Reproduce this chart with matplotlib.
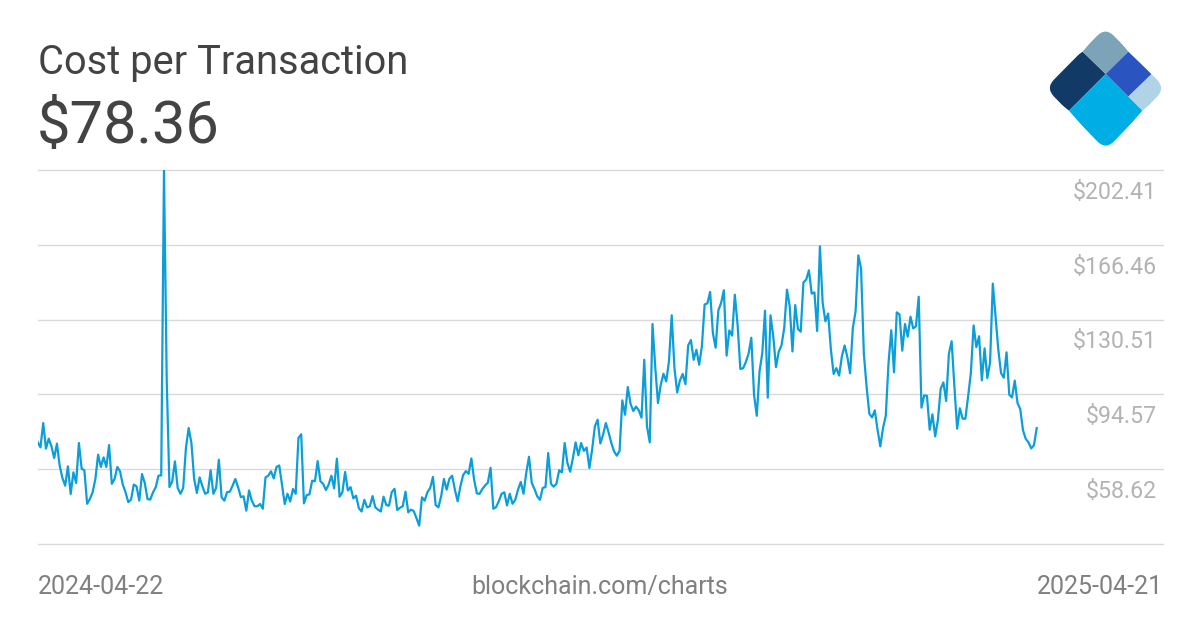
"""Cost per Transaction chart, blockchain.com share image style."""
import numpy as np
import matplotlib
matplotlib.use("Agg")
import matplotlib.pyplot as plt
from matplotlib.patches import PathPatch, Polygon
from matplotlib.path import Path

plt.rcParams["font.family"] = ["Roboto", "DejaVu Sans"]

# Daily values, 2024-04-22 to 2025-04-21
cost_jan = [71.7, 69.1, 80.8, 68.5, 73.3, 69.6, 64.0, 70.9, 60.3, 54.4,
            50.7, 60.0, 46.7, 57.1, 52.0, 71.2, 58.9, 58.1, 42.0, 44.3,
            47.5, 53.9, 65.6, 59.7, 64.3, 59.7, 70.2, 51.6, 53.9, 59.7,
            57.6, 51.2, 47.5, 42.8, 44.0, 51.2, 50.4, 43.5, 56.3, 52.0,
            44.3, 44.0, 47.5, 50.0, 55.5, 55.6, 202.41, 101.6, 50.0, 52.8,
            62.4, 49.6, 46.8, 49.6, 68.8, 78.4, 71.2, 53.9, 47.2, 54.7,
            50.4, 46.8, 47.5, 58.1, 46.8, 49.6, 63.2, 45.1, 43.5, 47.6,
            47.8, 50.7, 53.9, 50.0, 45.2, 45.6, 38.7, 48.4, 43.5, 40.8,
            40.8, 41.9, 39.6, 54.7, 55.5, 57.6, 54.2, 59.7, 60.4, 51.2,
            41.9, 46.8, 43.1]
cost_low = [49.1, 46.8, 73.6, 75.4, 42.2, 46.2, 46.5, 53.1, 52.8, 62.5,
            52.8, 51.6, 48.6, 51.2, 55.5, 49.4, 63.7, 45.4, 47.5, 57.3,
            48.4, 50.0, 44.6, 45.9, 39.9, 38.3, 43.9, 40.3, 40.8, 45.7,
            40.3, 39.2, 38.3, 45.4, 41.4, 41.1, 47.6, 49.2, 39.0, 40.1,
            40.8, 47.8, 37.9, 39.2, 38.5, 35.1, 31.5, 45.1, 43.5, 47.6,
            49.6, 54.9, 41.4, 40.3, 45.6, 53.9, 48.8, 54.0, 55.5, 48.8,
            43.2, 50.4, 55.8, 57.7, 56.4, 63.8, 53.6, 47.0, 46.8, 49.1,
            50.8, 52.1, 59.3, 39.6, 40.4, 43.2, 46.8, 47.5, 41.2, 46.8,
            42.0, 43.9, 48.8, 52.5, 46.8, 56.8, 64.6, 52.0, 49.1, 45.6,
            43.9]
cost_rise = [49.6, 50.0, 66.4, 51.6, 50.2, 51.6, 58.1, 57.1, 71.2, 61.6,
             57.4, 64.0, 71.5, 65.3, 71.2, 67.4, 69.0, 59.2, 68.0, 79.2,
             82.4, 71.0, 75.2, 80.8, 76.3, 71.2, 67.2, 65.1, 67.4, 91.7,
             84.8, 98.1, 90.1, 86.6, 88.7, 86.9, 83.4, 111.2, 79.2, 71.5,
             128.4, 107.7, 90.4, 99.2, 104.5, 100.8, 110.4, 132.6, 107.2, 95.5,
             101.3, 104.4, 99.5, 118.1, 120.7, 111.2, 116.0, 108.8, 117.7, 137.8,
             138.3, 143.8, 124.1, 117.0, 135.0, 138.5, 144.6, 113.2, 125.3, 122.8,
             142.5, 128.1, 106.8, 107.1, 110.1, 114.1, 121.8, 94.4, 84.3, 105.6,
             114.4, 134.8, 93.0, 132.6, 122.5, 107.7, 115.1, 118.1, 126.5, 144.9,
             136.9]
cost_fall = [115.2, 137.5, 126.0, 124.7, 148.4, 149.7, 154.2, 143.0, 143.6, 125.0,
             165.7, 138.5, 129.7, 133.4, 116.1, 104.4, 107.2, 103.6, 112.8, 118.1,
             112.5, 104.7, 126.5, 134.5, 161.4, 155.0, 114.4, 98.4, 85.3, 83.5,
             86.9, 77.6, 69.6, 78.4, 84.3, 109.6, 125.4, 105.2, 134.0, 133.0,
             115.6, 128.4, 122.3, 131.9, 126.3, 127.3, 141.5, 88.2, 94.1, 93.9,
             77.6, 85.0, 74.4, 82.4, 97.3, 100.3, 91.4, 114.1, 120.1, 98.4,
             78.1, 87.9, 82.9, 82.9, 93.6, 104.8, 127.7, 117.3, 122.5, 101.3,
             116.7, 102.4, 110.0, 147.8, 132.1, 116.1, 104.8, 102.6, 114.8, 94.4,
             93.1, 101.2, 90.4, 87.5, 77.3, 73.2, 71.5, 68.6, 70.2, 78.36]
tick_values = [58.62, 94.57, 130.51, 166.46, 202.41]
grid_values = [22.67, 58.62, 94.57, 130.51, 166.46, 202.41]

WIDTH, HEIGHT = 1200, 630
INK = "#434343"
LINE = "#0b9ed9"
GRID = "#d9d9d9"
LABEL = "#b3b3b3"
FOOT = "#808080"


def main():
    cost = np.array(cost_jan + cost_low + cost_rise + cost_fall)
    days = np.arange(len(cost))

    fig = plt.figure(figsize=(WIDTH / 100, HEIGHT / 100), dpi=100, facecolor="white")
    ax = fig.add_axes([38 / WIDTH, 1 - 544 / HEIGHT, 1125 / WIDTH, 374 / HEIGHT])
    ax.patch.set_visible(False)
    ax.plot(days, cost, color=LINE, linewidth=1.6, solid_joinstyle="round", zorder=3)
    ax.set_xlim(0.1, 0.1 + (len(cost) - 1) * 1125 / 999)
    ax.set_ylim(22.67, 202.41)
    ax.set_yticks(grid_values)
    ax.grid(axis="y", color=GRID, linewidth=1)
    ax.set_xticks([])
    ax.tick_params(left=False, labelleft=False)
    for spine in ax.spines.values():
        spine.set_visible(False)
    for tick in ax.yaxis.get_gridlines():
        tick.set_clip_on(False)

    # y labels sit just below their grid lines
    for v in tick_values:
        ax.annotate(f"${v:.2f}", xy=(1, v), xycoords=("axes fraction", "data"),
                    xytext=(-4.2, -20.8), textcoords="offset points",
                    ha="right", va="baseline", fontsize=16.7, color=LABEL)

    fig.text(37.5 / WIDTH, 1 - 74 / HEIGHT, "Cost per Transaction",
             fontsize=28.7, color=INK, va="baseline")
    fig.text(36.5 / WIDTH, 1 - 143 / HEIGHT, f"${cost[-1]:.2f}",
             fontsize=42.8, color=INK, va="baseline")
    fig.text(38 / WIDTH, 1 - 594 / HEIGHT, "2024-04-22",
             fontsize=18, color=FOOT, va="baseline")
    fig.text(600 / WIDTH, 1 - 594 / HEIGHT, "blockchain.com/charts",
             fontsize=18, color=FOOT, va="baseline", ha="center")
    fig.text(1163.5 / WIDTH, 1 - 594 / HEIGHT, "2025-04-21",
             fontsize=18, color=FOOT, va="baseline", ha="right")

    # Logo, drawn in picture pixels and clipped to a rounded diamond
    logo = fig.add_axes([0, 0, 1, 1], zorder=5)
    logo.set_xlim(0, WIDTH)
    logo.set_ylim(HEIGHT, 0)
    logo.axis("off")
    px = lambda zx, zy: (1040 + zx / 3, 20 + zy / 3)
    pieces = [
        ("#123a66", [(128, 95), (197, 162), (87, 272), (0, 204), (19, 170)]),
        ("#7da3b9", [(197, 10), (265, 95), (197, 162), (128, 95)]),
        ("#2a55c0", [(265, 95), (335, 162), (265, 230), (197, 162)]),
        ("#b0d4e6", [(335, 162), (395, 204), (307, 272), (265, 230)]),
        ("#00aee6", [(197, 162), (307, 272), (197, 400), (87, 272)]),
    ]
    top, right, bottom, left = (196.5, 22), (376, 204.5), (197, 390), (17, 204)
    r = 0.14

    def lerp(a, b, t):
        return (a[0] + (b[0] - a[0]) * t, a[1] + (b[1] - a[1]) * t)

    corners = [top, right, bottom, left]
    verts, codes = [], []
    for i, c in enumerate(corners):
        prev_c, next_c = corners[i - 1], corners[(i + 1) % 4]
        verts += [px(*lerp(c, prev_c, r)), px(*c), px(*lerp(c, next_c, r))]
        codes += [Path.MOVETO if i == 0 else Path.LINETO, Path.CURVE3, Path.CURVE3]
    verts.append(verts[0])
    codes.append(Path.CLOSEPOLY)
    clip = PathPatch(Path(verts, codes), facecolor="none", edgecolor="none",
                     transform=logo.transData)
    logo.add_patch(clip)
    for color, pts in pieces:
        poly = Polygon([px(*p) for p in pts], closed=True, facecolor=color,
                       edgecolor="none")
        logo.add_patch(poly)
        poly.set_clip_path(clip)

    fig.savefig("out.png", dpi=100, facecolor="white")


if __name__ == "__main__":
    main()
